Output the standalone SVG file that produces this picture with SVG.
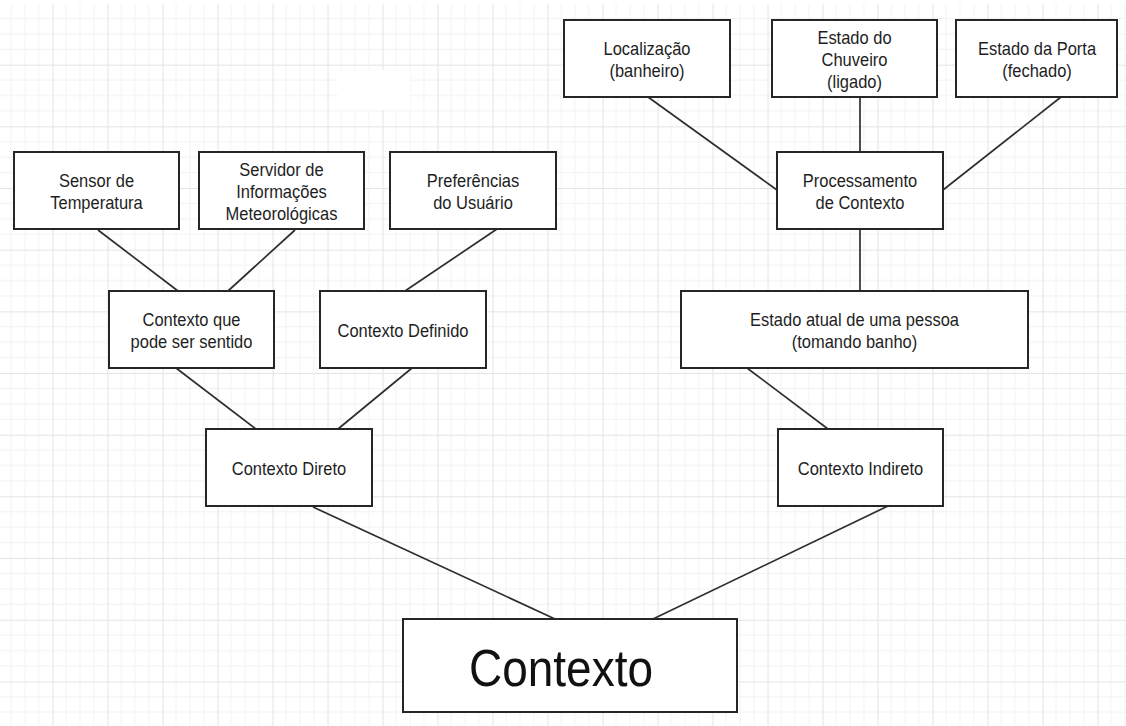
<svg xmlns="http://www.w3.org/2000/svg" width="1126" height="726" viewBox="0 0 1126 726">
  <defs>
    <pattern id="grid" patternUnits="userSpaceOnUse" x="-2.5" y="3" width="55" height="61.67">
      <g stroke="#f2f2f2" stroke-width="1" fill="none">
        <line x1="13.75" y1="0" x2="13.75" y2="61.67"/>
        <line x1="27.5" y1="0" x2="27.5" y2="61.67"/>
        <line x1="41.25" y1="0" x2="41.25" y2="61.67"/>
        <line x1="0" y1="15.42" x2="55" y2="15.42"/>
        <line x1="0" y1="30.83" x2="55" y2="30.83"/>
        <line x1="0" y1="46.25" x2="55" y2="46.25"/>
      </g>
      <g stroke="#e4e4e4" stroke-width="1.2" fill="none">
        <line x1="0.5" y1="0" x2="0.5" y2="61.67"/>
        <line x1="0" y1="0.5" x2="55" y2="0.5"/>
      </g>
    </pattern>
    <style>
      .box { fill: #ffffff; stroke: #262626; stroke-width: 2; }
      .lbl { font-family: "Liberation Sans", Arial, sans-serif; font-size: 16.5px; fill: #1e1e1e; text-anchor: middle; }
      .big { font-family: "Liberation Sans", Arial, sans-serif; font-size: 46px; fill: #111111; text-anchor: middle; }
      .edge { stroke: #2e2e2e; stroke-width: 1.7; fill: none; }
    </style>
  </defs>

  <rect x="0" y="0" width="1126" height="726" fill="#ffffff"/>
  <rect x="0" y="4" width="1126" height="722" fill="url(#grid)"/>
  <rect x="338" y="70" width="72" height="40" fill="#ffffff"/>

  <g id="connectors">
    <line class="edge" x1="98" y1="230" x2="178" y2="291"/>
    <line class="edge" x1="295" y1="230" x2="228" y2="291"/>
    <line class="edge" x1="497" y1="229" x2="405" y2="291"/>
    <line class="edge" x1="176" y1="368" x2="256" y2="429"/>
    <line class="edge" x1="412" y1="368" x2="338" y2="429"/>
    <line class="edge" x1="313" y1="507" x2="555" y2="619"/>
    <line class="edge" x1="888" y1="506" x2="653" y2="619"/>
    <line class="edge" x1="747" y1="368" x2="828" y2="429"/>
    <line class="edge" x1="860" y1="229" x2="860" y2="291"/>
    <line class="edge" x1="860" y1="97" x2="860" y2="152"/>
    <line class="edge" x1="648" y1="97" x2="777" y2="190"/>
    <line class="edge" x1="1061" y1="97" x2="943" y2="190"/>
  </g>

  <g id="sensor-temperatura">
    <rect class="box" x="14" y="152" width="165" height="77"/>
    <text class="lbl" transform="translate(96.5,187) scale(1,1.12)">Sensor de</text>
    <text class="lbl" transform="translate(96.5,209) scale(1,1.12)">Temperatura</text>
  </g>

  <g id="servidor-meteo">
    <rect class="box" x="199" y="152" width="165" height="77"/>
    <text class="lbl" transform="translate(281.5,176) scale(1,1.12)">Servidor de</text>
    <text class="lbl" transform="translate(281.5,198) scale(1,1.12)">Informações</text>
    <text class="lbl" transform="translate(281.5,220) scale(1,1.12)">Meteorológicas</text>
  </g>

  <g id="preferencias">
    <rect class="box" x="390" y="152" width="166" height="77"/>
    <text class="lbl" transform="translate(473,187) scale(1,1.12)">Preferências</text>
    <text class="lbl" transform="translate(473,209) scale(1,1.12)">do Usuário</text>
  </g>

  <g id="localizacao">
    <rect class="box" x="564" y="20" width="166" height="77"/>
    <text class="lbl" transform="translate(647,54.5) scale(1,1.12)">Localização</text>
    <text class="lbl" transform="translate(647,76.5) scale(1,1.12)">(banheiro)</text>
  </g>

  <g id="estado-chuveiro">
    <rect class="box" x="772" y="20" width="165" height="77"/>
    <text class="lbl" transform="translate(854.5,43.5) scale(1,1.12)">Estado do</text>
    <text class="lbl" transform="translate(854.5,65.5) scale(1,1.12)">Chuveiro</text>
    <text class="lbl" transform="translate(854.5,87.5) scale(1,1.12)">(ligado)</text>
  </g>

  <g id="estado-porta">
    <rect class="box" x="956" y="20" width="161" height="77"/>
    <text class="lbl" transform="translate(1037,54.5) scale(1,1.12)">Estado da Porta</text>
    <text class="lbl" transform="translate(1037,76.5) scale(1,1.12)">(fechado)</text>
  </g>

  <g id="processamento">
    <rect class="box" x="777" y="152" width="166" height="77"/>
    <text class="lbl" transform="translate(860,186.5) scale(1,1.12)">Processamento</text>
    <text class="lbl" transform="translate(860,208.5) scale(1,1.12)">de Contexto</text>
  </g>

  <g id="contexto-sentido">
    <rect class="box" x="109" y="291" width="165" height="77"/>
    <text class="lbl" transform="translate(191.5,325.5) scale(1,1.12)">Contexto que</text>
    <text class="lbl" transform="translate(191.5,347.5) scale(1,1.12)">pode ser sentido</text>
  </g>

  <g id="contexto-definido">
    <rect class="box" x="320" y="291" width="166" height="77"/>
    <text class="lbl" transform="translate(403,336.5) scale(1,1.12)">Contexto Definido</text>
  </g>

  <g id="estado-atual">
    <rect class="box" x="681" y="291" width="347" height="77"/>
    <text class="lbl" transform="translate(854.5,325.5) scale(1,1.12)">Estado atual de uma pessoa</text>
    <text class="lbl" transform="translate(854.5,347.5) scale(1,1.12)">(tomando banho)</text>
  </g>

  <g id="contexto-direto">
    <rect class="box" x="206" y="429" width="166" height="77"/>
    <text class="lbl" transform="translate(289,474.5) scale(1,1.12)">Contexto Direto</text>
  </g>

  <g id="contexto-indireto">
    <rect class="box" x="778" y="429" width="165" height="77"/>
    <text class="lbl" transform="translate(860.5,474.5) scale(1,1.12)">Contexto Indireto</text>
  </g>

  <g id="contexto">
    <rect class="box" x="403" y="619" width="334" height="93"/>
    <text class="big" transform="translate(561,686) scale(1,1.12)">Contexto</text>
  </g>
</svg>
